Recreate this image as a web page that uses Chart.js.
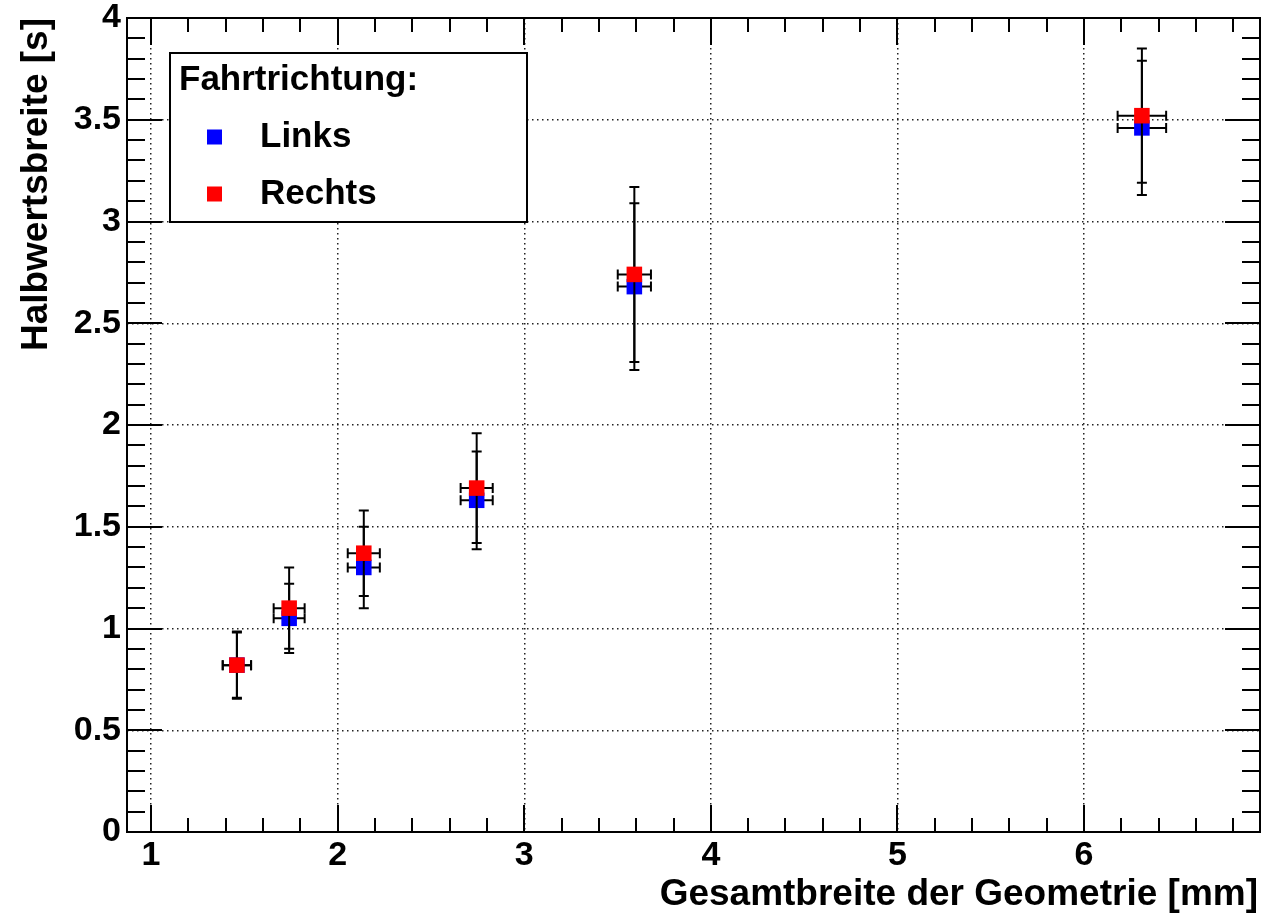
<!DOCTYPE html>
<html>
<head>
<meta charset="utf-8">
<script src="https://cdn.jsdelivr.net/npm/chart.js@4"></script>
<style>
  html, body { margin: 0; padding: 0; background: #fff; }
  #wrap { width: 1283px; height: 914px; }
</style>
</head>
<body>
<div id="wrap"><canvas id="grafik" width="1283" height="914"></canvas></div>
<script>
const breite = [1.46, 1.74, 2.14, 2.745, 3.59, 6.31];      // Gesamtbreite [mm]
const breiteFehler = [0.076, 0.083, 0.086, 0.086, 0.089, 0.13];
const linksWerte = [0.82, 1.05, 1.30, 1.63, 2.68, 3.46];   // Halbwertsbreite [s]
const linksFehler = [0.165, 0.17, 0.20, 0.24, 0.41, 0.33];
const rechtsWerte = [0.82, 1.10, 1.37, 1.69, 2.74, 3.52];
const rechtsFehler = [0.16, 0.20, 0.21, 0.27, 0.43, 0.33];

const xTicks = [1, 2, 3, 4, 5, 6];
const xTickLabels = ['1', '2', '3', '4', '5', '6'];
const yTicks = [0, 0.5, 1, 1.5, 2, 2.5, 3, 3.5, 4];
const yTickLabels = ['0', '0.5', '1', '1.5', '2', '2.5', '3', '3.5', '4'];

const schrift = 'Liberation Sans, Arial, Helvetica, sans-serif';

function punkte(werte) {
  return breite.map((x, i) => ({ x: x, y: werte[i] }));
}

// Fehlerbalken vor jedem Datensatz zeichnen (wie in ROOT: Fehler, dann Marker)
const fehlerbalken = {
  id: 'fehlerbalken',
  beforeDatasetDraw(chart, args) {
    const ds = chart.data.datasets[args.index];
    const ctx = chart.ctx;
    const xs = chart.scales.x, ys = chart.scales.y;
    const kappe = 5;
    ctx.save();
    ctx.strokeStyle = '#000';
    ctx.lineWidth = 2;
    ds.data.forEach((p, i) => {
      const px = xs.getPixelForValue(p.x);
      const py = ys.getPixelForValue(p.y);
      const oben = ys.getPixelForValue(p.y + ds.fehlerY[i]);
      const unten = ys.getPixelForValue(p.y - ds.fehlerY[i]);
      const links = xs.getPixelForValue(p.x - breiteFehler[i]);
      const rechts = xs.getPixelForValue(p.x + breiteFehler[i]);
      ctx.beginPath();
      ctx.moveTo(px, oben); ctx.lineTo(px, unten);
      ctx.moveTo(px - kappe, oben); ctx.lineTo(px + kappe, oben);
      ctx.moveTo(px - kappe, unten); ctx.lineTo(px + kappe, unten);
      ctx.moveTo(links, py); ctx.lineTo(rechts, py);
      ctx.moveTo(links, py - kappe); ctx.lineTo(links, py + kappe);
      ctx.moveTo(rechts, py - kappe); ctx.lineTo(rechts, py + kappe);
      ctx.stroke();
    });
    ctx.restore();
  }
};

// Rahmen, Ticks nach innen, Achsentitel und Legende
const rahmen = {
  id: 'rahmen',
  afterDraw(chart) {
    const ctx = chart.ctx;
    const a = chart.chartArea;
    const xs = chart.scales.x, ys = chart.scales.y;
    ctx.save();
    ctx.strokeStyle = '#000';
    ctx.lineWidth = 2;
    ctx.strokeRect(a.left, a.top, a.right - a.left, a.bottom - a.top);

    ctx.beginPath();
    // x-Achse: Hauptticks 1, Nebenticks 0.2
    for (let k = 5; k <= 34; k++) {
      const v = k * 0.2;
      if (v < xs.min || v > xs.max) continue;
      const px = Math.round(xs.getPixelForValue(v));
      const len = (k % 5 === 0) ? 27 : 14;
      ctx.moveTo(px, a.bottom); ctx.lineTo(px, a.bottom - len);
      ctx.moveTo(px, a.top); ctx.lineTo(px, a.top + len);
    }
    // y-Achse: Hauptticks 0.5, Nebenticks 0.1
    for (let k = 0; k <= 40; k++) {
      const py = Math.round(ys.getPixelForValue(k * 0.1));
      const len = (k % 5 === 0) ? 35 : 18;
      ctx.moveTo(a.left, py); ctx.lineTo(a.left + len, py);
      ctx.moveTo(a.right, py); ctx.lineTo(a.right - len, py);
    }
    ctx.stroke();

    // Achsentitel
    ctx.fillStyle = '#000';
    ctx.font = 'bold 37px ' + schrift;
    ctx.textAlign = 'right';
    ctx.textBaseline = 'alphabetic';
    ctx.fillText('Gesamtbreite der Geometrie [mm]', 1258, 905);
    ctx.save();
    ctx.translate(47, 18);
    ctx.rotate(-Math.PI / 2);
    ctx.font = 'bold 37px ' + schrift;
    ctx.textAlign = 'right';
    ctx.fillText('Halbwertsbreite [s]', 0, 0);
    ctx.restore();

    // Legende
    const lx = 170, ly = 53, lw = 357, lh = 169;
    ctx.fillStyle = '#fff';
    ctx.fillRect(lx, ly, lw, lh);
    ctx.strokeRect(lx, ly, lw, lh);
    ctx.fillStyle = '#000';
    ctx.textAlign = 'left';
    ctx.textBaseline = 'middle';
    ctx.font = 'bold 35px ' + schrift;
    ctx.fillText('Fahrtrichtung:', 179, 80);
    const zeilen = [137, 194];
    chart.data.datasets.forEach((ds, i) => {
      ctx.fillStyle = ds.backgroundColor;
      ctx.fillRect(207, zeilen[i] - 7.5, 15, 15);
      ctx.fillStyle = '#000';
      ctx.fillText(ds.label, 260, zeilen[i]);
    });
    ctx.restore();
  }
};

const daten = {
  datasets: [
    {
      label: 'Links',
      data: punkte(linksWerte),
      fehlerY: linksFehler,
      backgroundColor: '#0000ff',
      borderWidth: 0,
      pointStyle: 'rect',
      pointRadius: 11,
      pointHoverRadius: 11,
      order: 2
    },
    {
      label: 'Rechts',
      data: punkte(rechtsWerte),
      fehlerY: rechtsFehler,
      backgroundColor: '#ff0000',
      borderWidth: 0,
      pointStyle: 'rect',
      pointRadius: 11,
      pointHoverRadius: 11,
      order: 1
    }
  ]
};

const optionen = {
  responsive: false,
  animation: false,
  layout: { padding: { left: 0, top: 18, right: 23, bottom: 0 } },
  plugins: {
    legend: { display: false },
    tooltip: { enabled: false }
  },
  scales: {
    x: {
      type: 'linear',
      min: 0.871,
      max: 6.943,
      afterBuildTicks: s => { s.ticks = xTicks.map(v => ({ value: v })); },
      afterFit: s => { s.height = 82; s.paddingLeft = 0; s.paddingRight = 0; },
      ticks: {
        color: '#000',
        font: { family: schrift, size: 34, weight: 'bold', lineHeight: 1 },
        padding: 7,
        maxRotation: 0,
        callback: (v, i) => xTickLabels[i]
      },
      grid: { color: '#222', lineWidth: 1.5, drawTicks: false },
      border: { display: false, dash: [1.5, 3.5] }
    },
    y: {
      type: 'linear',
      min: 0,
      max: 4,
      afterBuildTicks: s => { s.ticks = yTicks.map(v => ({ value: v })); },
      afterFit: s => { s.width = 127; s.paddingTop = 0; s.paddingBottom = 0; },
      ticks: {
        color: '#000',
        font: { family: schrift, size: 34, weight: 'bold', lineHeight: 1 },
        padding: 6,
        callback: (v, i) => yTickLabels[i]
      },
      grid: { color: '#222', lineWidth: 1.5, drawTicks: false },
      border: { display: false, dash: [1.5, 3.5] }
    }
  }
};

new Chart(document.getElementById('grafik'), {
  type: 'scatter',
  data: daten,
  options: optionen,
  plugins: [fehlerbalken, rahmen]
});
</script>
</body>
</html>
